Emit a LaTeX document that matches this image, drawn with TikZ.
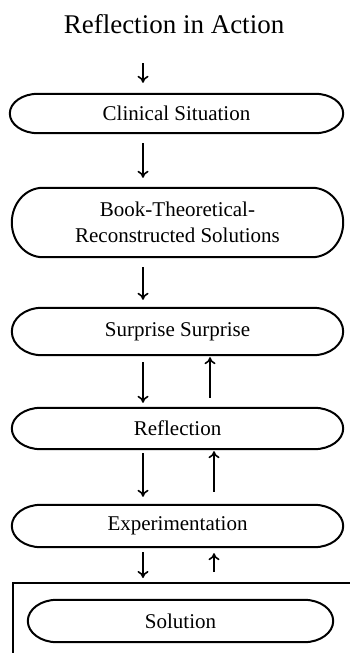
\documentclass[tikz,border=0pt]{standalone}
\usepackage{fontspec}
\setmainfont{Liberation Serif}
\usetikzlibrary{arrows.meta,calc}
\tikzset{
  lbl/.style={font=\fontsize{21}{26}\selectfont, align=center, inner sep=0pt},
  titlefont/.style={font=\fontsize{27}{30}\selectfont, inner sep=0pt},
  boxline/.style={line width=2pt},
  arr/.style={line width=1.6pt, -{To[length=7pt,width=11pt]}},
}
\newcommand\pilloutline[2]{%
  \draw[boxline] let \p1=(#1.north), \p2=(#1.south), \n1={abs(\y1-\y2)/2} in
    ([xshift=#2]#1.north west) -- ([xshift=-#2]#1.north east)
    arc[start angle=90,end angle=-90,x radius=#2,y radius=\n1]
    -- ([xshift=#2]#1.south west)
    arc[start angle=270,end angle=90,x radius=#2,y radius=\n1] -- cycle;}
\begin{document}
\begin{tikzpicture}[x=1pt,y=-1pt]
\useasboundingbox (0,0) rectangle (350,653);
\fill[white] (0,0) rectangle (350,653);

\node[titlefont] (title) at (174,24) {Reflection in Action};

\node[lbl, minimum width=333, minimum height=39] (clin) at (176.5,113.5) {Clinical Situation};
\node[lbl, minimum width=331, minimum height=69] (book) at (177.5,222.5) {Book-Theoretical-\\Reconstructed Solutions};
\node[lbl, minimum width=331, minimum height=47] (surp) at (177.5,331.5) {Surprise Surprise};
\node[lbl, minimum width=331, minimum height=41] (refl) at (177.5,428.5) {Reflection};
\node[lbl, minimum width=331, minimum height=42] (expe) at (177.5,526) {Experimentation};
\node[lbl, minimum width=305, minimum height=42] (solu) at (180.5,621) {Solution};

\pilloutline{clin}{28pt}
\pilloutline{book}{31pt}
\pilloutline{surp}{30pt}
\pilloutline{refl}{29pt}
\pilloutline{expe}{29pt}
\pilloutline{solu}{29pt}

% frame around the solution
\coordinate (fbl) at (13,653);
\coordinate (ftl) at (13,583);
\coordinate (ftr) at (350,583);
\draw[boxline] (fbl) -- (ftl) -- (ftr);

% arrow columns
\coordinate (dx) at (143,0);
\coordinate (u1) at (210,0);
\coordinate (u2) at (214,0);
\coordinate (start) at (143,63);

\draw[arr, shorten >=11pt] (start) -- (clin.north -| dx);
\draw[arr, shorten <=10pt, shorten >=10pt] (clin.south -| dx) -- (book.north -| dx);
\draw[arr, shorten <=10pt, shorten >=8pt] (book.south -| dx) -- (surp.north -| dx);
\draw[arr, shorten <=7pt, shorten >=5pt] (surp.south -| dx) -- (refl.north -| dx);
\draw[arr, shorten <=10pt, shorten >=2pt] (refl.north -| u1) -- (surp.south -| u1);
\draw[arr, shorten <=4pt, shorten >=8pt] (refl.south -| dx) -- (expe.north -| dx);
\draw[arr, shorten <=13pt, shorten >=2pt] (expe.north -| u2) -- (refl.south -| u2);
\draw[arr, shorten <=5pt, shorten >=5pt] (expe.south -| dx) -- (ftl -| dx);
\draw[arr, shorten <=11pt, shorten >=6pt] (ftl -| u2) -- (expe.south -| u2);
\end{tikzpicture}
\end{document}
